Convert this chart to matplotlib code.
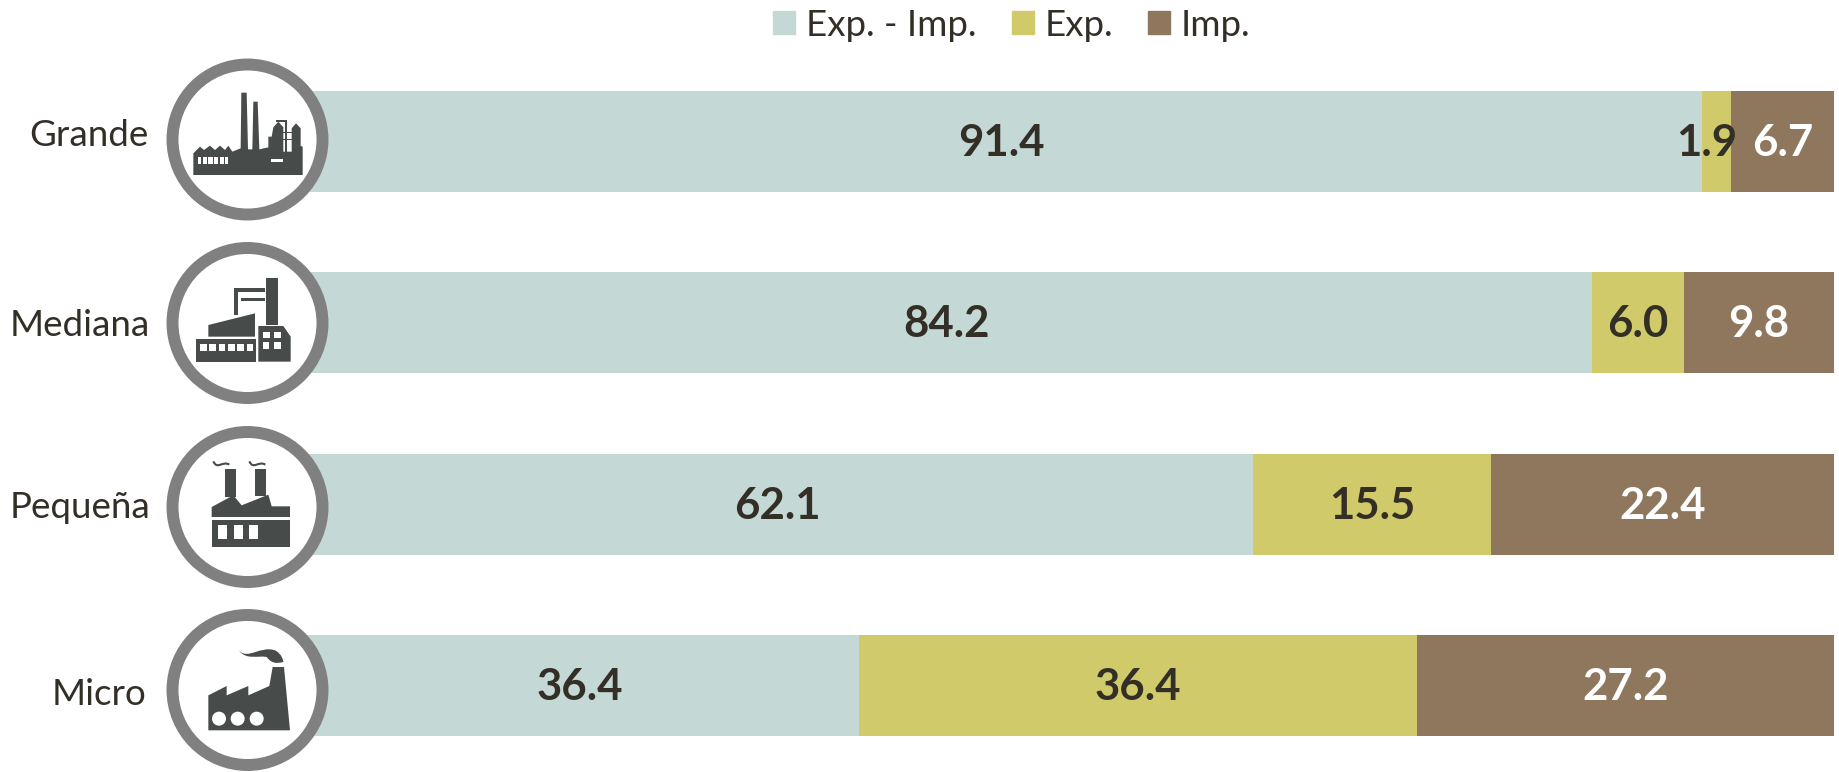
import matplotlib
matplotlib.use("Agg")
import matplotlib.pyplot as plt
from matplotlib.patches import Circle, Polygon, Patch, PathPatch
from matplotlib.path import Path
from matplotlib.transforms import ScaledTranslation

plt.rcParams['font.family'] = ['Lato', 'DejaVu Sans']

categories = ["Grande", "Mediana", "Pequeña", "Micro"]
series_names = ["Exp. - Imp.", "Exp.", "Imp."]
exp_imp = [91.4, 84.2, 62.1, 36.4]
exp_only = [1.9, 6.0, 15.5, 36.4]
imp_only = [6.7, 9.8, 22.4, 27.2]

COLORS = ["#c4d8d6", "#d0ca6a", "#8e775c"]
TEXT = "#332f26"
W, H = 1840, 772
fig = plt.figure(figsize=(W / 100, H / 100), dpi=100, facecolor="white")

# main axes: x 0-100 spans px 301-1834
top, bottom = 50.5, 740.0
ax = fig.add_axes([301 / W, 1 - bottom / H, (1834 - 301) / W, (bottom - top) / H])
ax.set_xlim(0, 100)
ax.set_ylim(3.3, -0.5)
ax.patch.set_alpha(0)
for s in ax.spines.values():
    s.set_visible(False)
ypos = list(range(len(categories)))
lefts = [0.0] * len(categories)
label_colors = [TEXT, TEXT, "white"]
for vals, col, name, lc in zip([exp_imp, exp_only, imp_only], COLORS, series_names, label_colors):
    ax.barh(ypos, vals, left=lefts, height=0.557, color=col, label=name, linewidth=0)
    for i, (v, l) in enumerate(zip(vals, lefts)):
        dx = -0.65 if v < 3 else 0
        ax.text(l + v / 2 + dx, i + 0.01, f"{v:.1f}", ha="center", va="center",
                fontsize=31.5, fontweight="bold", color=lc)
    lefts = [a + b for a, b in zip(lefts, vals)]

ax.set_xticks([])
ax.set_yticks(ypos, categories, fontsize=26.5, color=TEXT)
ax.tick_params(axis="y", length=0, pad=109)
label_dx = [-1, 0, 1, -3.5]
label_dy = [9, 0, 0, -6]
for lab, dx, dy in zip(ax.get_yticklabels(), label_dx, label_dy):
    lab.set_transform(lab.get_transform() + ScaledTranslation(dx / 100, dy / 100, fig.dpi_scale_trans))

leg = ax.legend(handles=[Patch(color=c, label=n) for c, n in zip(COLORS, series_names)],
                ncol=3, frameon=False, fontsize=26.4, loc="center", labelcolor=TEXT,
                bbox_to_anchor=((1012 - 301) / 1533, 1 + (top - 25) / (bottom - top)),
                handlelength=0.6, handleheight=0.6, handletextpad=0.3,
                columnspacing=0.95, borderpad=0, borderaxespad=0)

# decorative badges in pixel coordinates
deco = fig.add_axes([0, 0, 1, 1])
deco.set_xlim(0, W)
deco.set_ylim(H, 0)
deco.axis("off")
deco.patch.set_alpha(0)
ICON = "#474c4b"
centers = [139.5, 323, 507, 690]
for cy in centers:
    deco.add_patch(Circle((247.5, cy), 75, facecolor="white", edgecolor="#808080", linewidth=8.6))


def poly(pts, oy, color=ICON):
    deco.add_patch(Polygon([(x / 3, y / 3 + oy) for x, y in pts], closed=True, facecolor=color,
                           edgecolor="none", zorder=3))


def rect(x0, y0, x1, y1, oy, color="white"):
    poly([(x0, y0), (x1, y0), (x1, y1), (x0, y1)], oy, color)


def curve(verts, codes, oy, lw=0, fc="none", ec=ICON):
    deco.add_patch(PathPatch(Path([(x / 3, y / 3 + oy) for x, y in verts], codes),
                             facecolor=fc, edgecolor=ec, linewidth=lw, zorder=3))


# Grande
oy = 40
poly([(580, 405), (580, 340), (600, 320), (612, 330), (630, 317), (645, 330), (660, 317), (675, 330), (685, 317),
      (697, 335), (722, 325), (724, 158), (740, 158), (744, 328), (757, 328), (760, 185), (773, 185), (778, 328),
      (805, 322), (805, 290), (815, 290), (820, 262), (835, 245), (850, 262), (850, 335), (875, 335), (875, 265),
      (888, 250), (902, 265), (902, 318), (908, 320), (908, 405)], oy)
rect(595, 352, 685, 372, oy)
for x in range(604, 685, 17):
    rect(x, 350, x + 4, 374, oy, ICON)
rect(812, 356, 850, 365, oy)
rect(850, 275, 878, 280, oy, ICON)
rect(850, 296, 878, 301, oy, ICON)
rect(856, 245, 861, 335, oy, ICON)
rect(828, 240, 861, 246, oy, ICON)

# Mediana
rect(798, 715, 834, 855, oy, ICON)
rect(703, 745, 796, 755, oy, ICON)
rect(703, 745, 713, 825, oy, ICON)
rect(722, 775, 796, 783, oy, ICON)
poly([(625, 855), (765, 820), (765, 890), (625, 890)], oy)
rect(588, 897, 768, 965, oy, ICON)
for x in range(600, 760, 28):
    rect(x, 912, x + 20, 933, oy)
poly([(775, 858), (850, 858), (872, 890), (872, 965), (775, 965)], oy)
for x0, y0, x1, y1 in [(788, 875, 810, 895), (822, 875, 843, 895), (788, 905, 808, 928), (822, 905, 843, 928)]:
    rect(x0, y0, x1, y1, oy)

# Pequeña
oy = 412
poly([(635, 315), (635, 285), (700, 250), (725, 280), (805, 248), (815, 283), (870, 283), (870, 315)], oy)
rect(675, 170, 708, 255, oy, ICON)
rect(765, 170, 797, 252, oy, ICON)
rect(635, 325, 870, 405, oy, ICON)
for x in (655, 702, 747):
    rect(x, 340, x + 27, 380, oy)
M, C = Path.MOVETO, Path.CURVE4
for x in (640, 748):
    curve([(x, 148), (x + 12, 175), (x + 28, 145), (x + 48, 158)], [M, C, C, C], oy, lw=1.5)

# Micro
poly([(625, 850), (680, 822), (680, 850), (745, 822), (745, 850), (808, 822), (818, 765), (852, 765), (870, 955),
      (625, 955)], oy)
for x in (657, 713, 770):
    deco.add_patch(Circle((x / 3, 920 / 3 + oy), 21 / 3, facecolor="white", edgecolor="none", zorder=4))
curve([(716, 715), (745, 745), (780, 700), (825, 715), (845, 725), (850, 745), (850, 750), (830, 755), (815, 755),
       (800, 735), (770, 730), (740, 745), (716, 715), (716, 715)],
      [M, C, C, C, C, C, C, C, C, C, C, C, C, Path.CLOSEPOLY], oy, fc=ICON, ec="none")

fig.savefig("out.png", dpi=100, facecolor="white")
